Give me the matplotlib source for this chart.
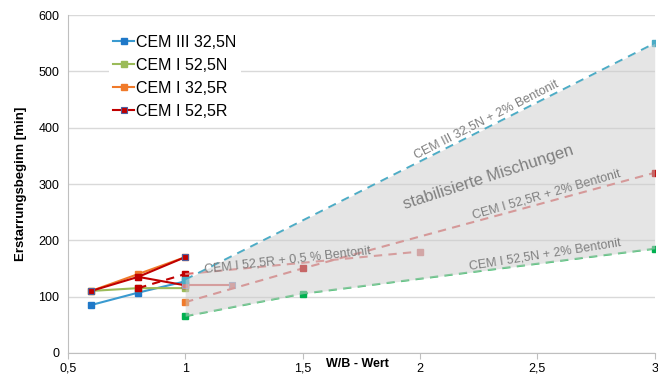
import numpy as np
import matplotlib.pyplot as plt

plt.rcParams['font.family'] = ['Liberation Sans', 'DejaVu Sans']

# solid series (no bentonite)
wb = [0.6, 0.8, 1.0]
cem3_325n = [85, 107, 127]
cem1_525n = [110, 115, 115]
cem1_325r = [110, 140, 170]
cem1_525r = [110, 135, 170]

# extra CEM I 52,5R points
red_drop_x = [0.8, 1.0]
red_drop_y = [135, 120]
red_pale_x = [1.0, 1.2]
red_pale_y = [120, 120]

# CEM I 52,5R + 0,5 % Bentonit
r05_x = [0.8, 1.0, 2.0]
r05_y = [115, 140, 180]

# + 2 % Bentonit series
c3b_x = [1.0, 3.0]
c3b_y = [130, 550]
r2_x = [1.0, 1.5, 3.0]
r2_y = [90, 150, 320]
n2_x = [1.0, 1.5, 3.0]
n2_y = [65, 105, 185]

xticks = [0.5, 1, 1.5, 2, 2.5, 3]
xticklabels = ["0,5", "1", "1,5", "2", "2,5", "3"]
yticks = [0, 100, 200, 300, 400, 500, 600]

fig = plt.figure(figsize=(6.58, 3.79), dpi=100)
ax = fig.add_axes([0.103, 0.069, 0.892, 0.891])

ms = 5
blue = "#3A9AD0"
green = "#9BBB59"
orange = "#F07A2A"
red = "#C00000"
teal = "#4BACC6"
dgreen = "#00B050"

l1, = ax.plot(wb, cem3_325n, color=blue, lw=1.5, marker="s", ms=ms,
              mfc="#1F78C8", mec="#1F78C8", label="CEM III 32,5N")
l2, = ax.plot(wb, cem1_525n, color=green, lw=1.5, marker="s", ms=ms,
              mfc=green, mec=green, label="CEM I 52,5N")
l3, = ax.plot(wb, cem1_325r, color=orange, lw=1.5, marker="s", ms=ms,
              mfc=orange, mec=orange, label="CEM I 32,5R")
l4, = ax.plot(wb, cem1_525r, color=red, lw=1.5, marker="s", ms=ms,
              mfc=red, mec="#5060A0", mew=0.8, label="CEM I 52,5R")

ax.plot(red_drop_x, red_drop_y, color=red, lw=1.5, marker="s", ms=ms)
ax.plot(red_pale_x, red_pale_y, color="#E07070", lw=1.5, marker="s", ms=ms,
        mfc="#D98080", mec="#A0A0C0", mew=0.8)

ax.plot(r05_x[:2], r05_y[:2], color=red, lw=1.5, ls=(0, (4, 3)), marker="s", ms=ms)
ax.plot(r05_x[1:], r05_y[1:], color="#E07070", lw=1.5, ls=(0, (4, 3)),
        marker="s", ms=ms, markevery=[1], mfc="#D98080", mec="#D98080")

ax.plot(c3b_x, c3b_y, color=teal, lw=1.5, ls=(0, (4, 3)), marker="s", ms=ms,
        mfc=teal, mec=teal)
ax.plot(r2_x, r2_y, color="#E06666", lw=1.5, ls=(0, (4, 3)), marker="s", ms=ms,
        markevery=[1, 2], mfc=red, mec=red)
ax.plot(r2_x[:1], r2_y[:1], ls="none", marker="s", ms=ms, mfc=orange, mec=orange)
ax.plot(n2_x, n2_y, color="#3CBF6A", lw=1.5, ls=(0, (4, 3)), marker="s", ms=ms,
        mfc=dgreen, mec=dgreen)

# shaded region of stabilised mixtures
fx = np.array(n2_x)
top = np.interp(fx, c3b_x, c3b_y)
ax.fill_between(fx, n2_y, top, color="#CCCCCC", alpha=0.5, lw=0, zorder=5)

tc = "#7F7F7F"
ax.text(2.283, 415, "CEM III 32,5N + 2% Bentonit", rotation=27, color=tc,
        fontsize=9, ha="center", va="center", zorder=6)
ax.text(2.291, 311, "stabilisierte Mischungen", rotation=18, color=tc,
        fontsize=12, ha="center", va="center", zorder=6)
ax.text(2.538, 282, "CEM I 52,5R + 2% Bentonit", rotation=16, color=tc,
        fontsize=9, ha="center", va="center", zorder=6)
ax.text(2.534, 174, "CEM I 52,5N + 2% Bentonit", rotation=9, color=tc,
        fontsize=9, ha="center", va="center", zorder=6)
ax.text(1.436, 165, "CEM I 52,5R + 0,5 % Bentonit", rotation=6.5, color=tc,
        fontsize=9, ha="center", va="center", zorder=6)

ax.set_xlim(0.5, 3)
ax.set_ylim(0, 600)
ax.set_xticks(xticks)
ax.set_xticklabels(xticklabels)
ax.set_yticks(yticks)
ax.tick_params(axis="x", length=4, color="#BFBFBF", labelsize=9, pad=3)
ax.tick_params(axis="y", length=0, labelsize=9, pad=6)
ax.yaxis.grid(True, color="#D9D9D9", lw=1)
ax.set_axisbelow(True)
for s in ["top", "right"]:
    ax.spines[s].set_visible(False)
for s in ["left", "bottom"]:
    ax.spines[s].set_color("#BFBFBF")

ax.set_ylabel("Erstarrungsbeginn [min]", fontsize=9.5, fontweight="bold", labelpad=8)
ax.text(1.734, -19, "W/B - Wert", fontsize=9, fontweight="bold",
        ha="center", va="center", clip_on=False)

leg = ax.legend(handles=[l1, l2, l3, l4], loc="upper left",
                bbox_to_anchor=(0.056, 0.98), fontsize=11.5, frameon=True,
                facecolor="white", edgecolor="none", framealpha=1, fancybox=False,
                handlelength=1.3, handletextpad=0.1, labelspacing=0.5,
                borderpad=0.3)
leg.set_zorder(10)

fig.savefig("out.png", dpi=100)
